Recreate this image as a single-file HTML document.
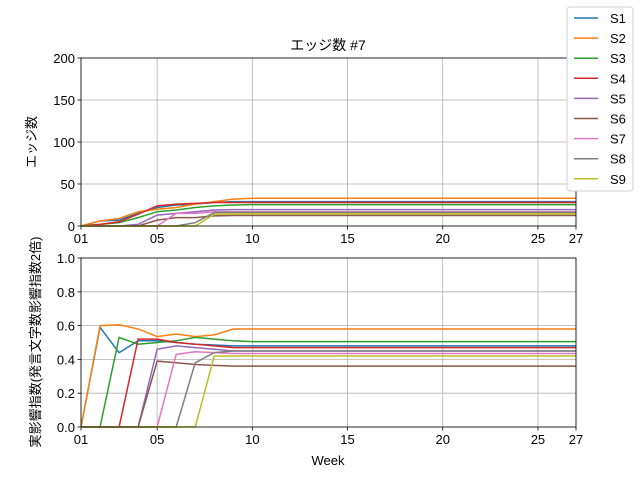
<!DOCTYPE html>
<html><head><meta charset="utf-8"><style>
body{margin:0;background:#fff;}
svg{display:block;font-family:"Liberation Sans","DejaVu Sans","Noto Sans CJK JP",sans-serif;}
</style></head><body>
<svg id="c" width="640" height="480"></svg>
<script>
const weeks = Array.from({length:27},(_,i)=>i+1);
const seriesNames = ["S1","S2","S3","S4","S5","S6","S7","S8","S9"];
const colors = ["#1f77b4","#ff7f0e","#2ca02c","#d62728","#9467bd","#8c564b","#e377c2","#7f7f7f","#bcbd22"];
const xTickLabels = ["01","05","10","15","20","25","27"];
const xTickWeeks = [1,5,10,15,20,25,27];
const topTicks = [0,50,100,150,200];
const botTicks = [0,0.2,0.4,0.6,0.8,1.0];
function fill(head, v){const a=head.slice();while(a.length<27)a.push(v);return a;}
const edgesS1 = fill([0,6,7,15,22,25,26,28,29],29);
const edgesS2 = fill([0,6,9,17,20,22,26,29,32,33],33);
const edgesS3 = fill([0,2,4,10,17,19,22,24,25,25.5],25.5);
const edgesS4 = fill([0,2,5,14,24,26,27,28],28);
const edgesS5 = fill([0,0,0,2,13,15,17,19,19.5],19.5);
const edgesS6 = fill([0,0,0,0,7,10,10,12,12.5],12.5);
const edgesS7 = fill([0,0,0,0,0,15,15,17],17);
const edgesS8 = fill([0,0,0,0,0,0,4,16],16);
const edgesS9 = fill([0,0,0,0,0,0,0,14],14.5);
const inflS1 = fill([0,0.59,0.44,0.51,0.51,0.5,0.49,0.485,0.48],0.48);
const inflS2 = fill([0,0.6,0.605,0.58,0.535,0.55,0.535,0.545,0.58],0.58);
const inflS3 = fill([0,0,0.53,0.49,0.5,0.51,0.53,0.52,0.51,0.505],0.505);
const inflS4 = fill([0,0,0,0.52,0.52,0.5,0.49,0.48,0.47],0.47);
const inflS5 = fill([0,0,0,0,0.46,0.48,0.47,0.46,0.45],0.45);
const inflS6 = fill([0,0,0,0,0.39,0.38,0.37,0.365,0.36],0.36);
const inflS7 = fill([0,0,0,0,0,0.43,0.445,0.44,0.435],0.435);
const inflS8 = fill([0,0,0,0,0,0,0.38,0.44,0.45],0.45);
const inflS9 = fill([0,0,0,0,0,0,0,0.42],0.42);
const edges=[edgesS1,edgesS2,edgesS3,edgesS4,edgesS5,edgesS6,edgesS7,edgesS8,edgesS9];
const infl=[inflS1,inflS2,inflS3,inflS4,inflS5,inflS6,inflS7,inflS8,inflS9];

const svg=document.getElementById('c');const NS="http://www.w3.org/2000/svg";
function el(t,a,p){const e=document.createElementNS(NS,t);for(const k in a)e.setAttribute(k,a[k]);(p||svg).appendChild(e);return e;}
const X0=81,X1=576;
const xs=w=>X0+(w-1)/26*(X1-X0);
function panel(top,bot,ymax,ticks,data,name,fmt){
  const g=el('g',{});
  
  
  const ys=v=>bot-v/ymax*(bot-top);
  xTickWeeks.forEach((w,i)=>{
    const l=el('line',{x1:xs(w),x2:xs(w),y1:top,y2:bot,stroke:'#b0b0b0','stroke-width':0.8},g);
    
    el('line',{x1:xs(w),x2:xs(w),y1:bot,y2:bot+3.5,stroke:'#000','stroke-width':0.8},g);
    const t=el('text',{x:xs(w),y:bot+17,'text-anchor':'middle','font-size':13},g);t.textContent=xTickLabels[i];
    
  });
  ticks.forEach(v=>{
    el('line',{x1:X0,x2:X1,y1:ys(v),y2:ys(v),stroke:'#b0b0b0','stroke-width':0.8},g);
    el('line',{x1:X0-3.5,x2:X0,y1:ys(v),y2:ys(v),stroke:'#000','stroke-width':0.8},g);
    const t=el('text',{x:X0-6,y:ys(v)+5,'text-anchor':'end','font-size':13},g);t.textContent=fmt(v);
    
  });
  data.forEach((s,i)=>{
    const p=el('polyline',{points:s.map((v,j)=>xs(weeks[j])+','+ys(v)).join(' '),fill:'none',stroke:colors[i],'stroke-width':1.5},g);
    
  });
  el('rect',{x:X0,y:top,width:X1-X0,height:bot-top,fill:'none',stroke:'#000','stroke-width':0.8},g);
}
panel(58,226,200,topTicks,edges,'edges-panel',v=>String(v));
panel(258,427,1,botTicks,infl,'influence-panel',v=>v.toFixed(1));
function txt(s,a,name){const t=el('text',a);t.textContent=s;return t;}
txt('エッジ数 #7',{x:328,y:50,'text-anchor':'middle','font-size':14},'chart-title');
txt('エッジ数',{x:0,y:0,'text-anchor':'middle','font-size':13,transform:'translate(36,142) rotate(-90)'},'top-y-axis-title');
txt('実影響指数(発言文字数影響指数2倍)',{x:0,y:0,'text-anchor':'middle','font-size':13,transform:'translate(40,342) rotate(-90)'},'bottom-y-axis-title');
txt('Week',{x:328,y:465,'text-anchor':'middle','font-size':13},'x-axis-title');
const lg=el('g',{});

el('rect',{x:567,y:7,width:66,height:184,rx:3,fill:'#fff',stroke:'#ccc','stroke-width':1},lg);
seriesNames.forEach((n,i)=>{
  const y=18+i*20.1;
  const e=el('g',{},lg);
  
  el('line',{x1:574,x2:598,y1:y,y2:y,stroke:colors[i],'stroke-width':1.5},e);
  const t=el('text',{x:610,y:y+5,'font-size':13},e);t.textContent=n;
});
</script>
</body></html>
